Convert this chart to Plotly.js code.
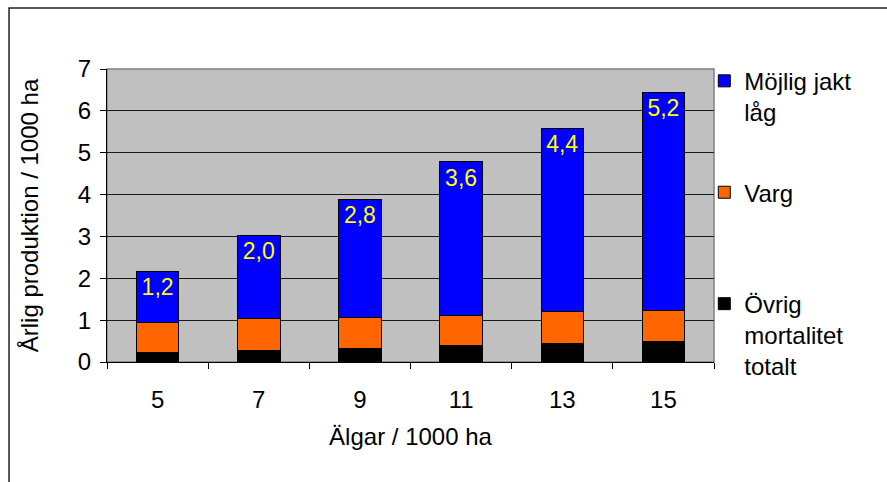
<!DOCTYPE html>
<html>
<head>
<meta charset="utf-8">
<script src="https://cdn.plot.ly/plotly-3.0.1.min.js"></script>
<style>
html, body { margin: 0; padding: 0; background: #fff; }
#chart { width: 887px; height: 482px; }
</style>
</head>
<body>
<div id="chart"></div>
<script>
// Data
const categories = ['5', '7', '9', '11', '13', '15'];
const ovrigMortalitet = [0.22, 0.27, 0.32, 0.40, 0.45, 0.50];
const varg = [0.72, 0.76, 0.75, 0.71, 0.75, 0.74];
const mojligJakt = [1.23, 2.00, 2.82, 3.67, 4.39, 5.21];
const mojligJaktLabels = ['1,2', '2,0', '2,8', '3,6', '4,4', '5,2'];

const seriesNames = ['Övrig<br>mortalitet<br>totalt', 'Varg<br>\u00a0', 'Möjlig jakt<br>låg'];
const fontFamily = '"Liberation Sans", Arial, sans-serif';

const traces = [
  {
    type: 'bar', x: categories, y: ovrigMortalitet, name: seriesNames[0], legendgroup: 'g1', legendrank: 3,
    marker: { color: '#000000', line: { color: '#000000', width: 1 } },
    hoverinfo: 'skip'
  },
  {
    type: 'bar', x: categories, y: varg, name: seriesNames[1], legendgroup: 'g2', legendrank: 2,
    marker: { color: '#FF6600', line: { color: '#000000', width: 1 } },
    hoverinfo: 'skip'
  },
  {
    type: 'bar', x: categories, y: mojligJakt, name: seriesNames[2], legendgroup: 'g3', legendrank: 1,
    marker: { color: '#0000FF', line: { color: '#000000', width: 1 } },
    text: mojligJaktLabels, textposition: 'inside', insidetextanchor: 'end',
    textangle: 0, constraintext: 'none',
    textfont: { color: '#FFFF00', size: 23, family: fontFamily },
    hoverinfo: 'skip'
  }
];

const layout = {
  width: 887, height: 482,
  margin: { l: 107, r: 173, t: 69, b: 120 },
  paper_bgcolor: '#FFFFFF',
  plot_bgcolor: '#C0C0C0',
  barmode: 'stack',
  bargap: 0.58,
  font: { family: fontFamily, size: 24, color: '#000000' },
  showlegend: true,
  legend: {
    x: 0.984, xanchor: 'left', y: 1.035, yanchor: 'top',
    traceorder: 'grouped', tracegroupgap: 46, valign: 'top',
    maxheight: 1,
    font: { family: fontFamily, size: 24, color: '#000000' },
    bgcolor: 'rgba(0,0,0,0)'
  },
  xaxis: {
    type: 'category',
    tickson: 'boundaries',
    ticks: 'outside', ticklen: 6, tickcolor: '#000000', tickwidth: 1,
    ticklabelstandoff: 16,
    showline: true, linecolor: '#000000', linewidth: 1,
    showgrid: false, zeroline: false,
    tickfont: { size: 24 },
    title: { text: 'Älgar / 1000 ha', font: { size: 24 }, standoff: 16 }
  },
  yaxis: {
    range: [0, 7], dtick: 1, tick0: 0,
    ticks: 'outside', ticklen: 6, tickcolor: '#000000', tickwidth: 1,
    ticklabelstandoff: 4,
    showline: true, linecolor: '#000000', linewidth: 1,
    showgrid: true, gridcolor: '#1a1a1a', gridwidth: 1,
    zeroline: false,
    tickfont: { size: 24 },
    title: { text: 'Årlig produktion / 1000 ha', font: { size: 24 }, standoff: 32 }
  },
  shapes: [
    { type: 'rect', xref: 'paper', yref: 'paper', x0: 0, x1: 1, y0: 0, y1: 1,
      line: { color: '#808080', width: 1.5 }, layer: 'below' },
    { type: 'rect', xref: 'paper', yref: 'paper', x0: -0.1614, x1: 1.32, y0: -0.5, y1: 1.2082,
      line: { color: '#222222', width: 1.5 }, layer: 'above' }
  ]
};

Plotly.newPlot('chart', traces, layout, { staticPlot: true, displayModeBar: false });
</script>
</body>
</html>
